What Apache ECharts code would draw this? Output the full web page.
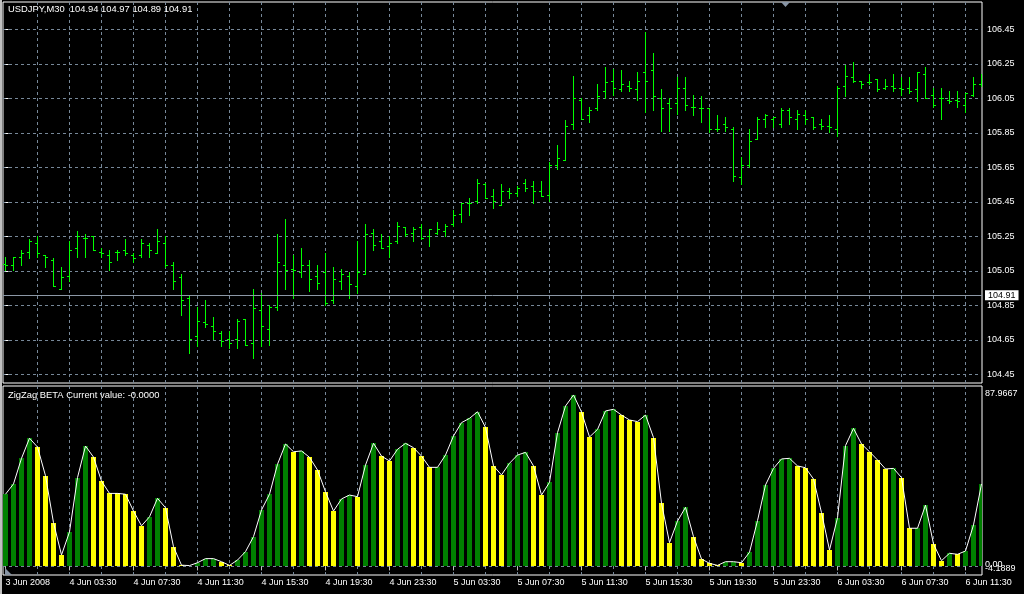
<!DOCTYPE html>
<html><head><meta charset="utf-8">
<script src="https://cdn.jsdelivr.net/npm/echarts@6/dist/echarts.min.js"></script>
<style>html,body{margin:0;padding:0;background:#000;}#c{width:1024px;height:594px;}</style>
</head><body><div id="c"></div>
<script>
// ---- data (USDJPY M30 bars, index 0 = 3 Jun 2008 23:30) ----
const opens = [
105.09,105.08,105.13,105.16,105.21,105.14,105.11,104.94,105.02,105.18,
105.24,105.25,105.16,105.14,105.16,105.17,105.14,105.14,105.20,105.15,
105.21,105.08,105.01,104.89,104.67,104.75,104.73,104.69,104.65,104.65,
104.77,104.63,104.82,104.71,104.84,105.08,105.06,105.04,105.08,105.02,
105.04,104.88,104.99,105.02,104.96,105.03,105.27,105.22,105.19,105.22,
105.30,105.27,105.30,105.25,105.27,105.28,105.32,105.38,105.44,105.45,
105.55,105.48,105.43,105.51,105.50,105.56,105.54,105.51,105.49,105.66,
105.69,105.90,106.04,105.95,105.99,106.09,106.15,106.10,106.12,106.10,
106.20,106.21,106.05,106.02,106.02,106.11,106.00,105.99,105.99,105.87,
105.90,105.87,105.59,105.66,105.81,105.93,105.93,105.90,105.98,105.93,
105.95,105.94,105.90,105.89,105.87,106.12,106.17,106.15,106.14,106.16,
106.11,106.12,106.11,106.11,106.10,106.19,106.07,106.05,106.04,106.04,
106.01,106.07,106.13];
const highs = [
105.13,105.13,105.17,105.23,105.25,105.14,105.12,105.07,105.22,105.28,
105.26,105.25,105.18,105.17,105.17,105.23,105.15,105.23,105.21,105.29,
105.25,105.10,105.03,104.91,104.84,104.88,104.78,104.70,104.70,104.77,
104.77,104.94,104.92,104.85,105.26,105.35,105.14,105.18,105.11,105.08,
105.15,105.07,105.06,105.04,105.22,105.32,105.29,105.26,105.25,105.33,
105.30,105.30,105.32,105.29,105.33,105.32,105.40,105.44,105.47,105.58,
105.56,105.52,105.55,105.53,105.54,105.58,105.57,105.57,105.68,105.78,
105.92,106.18,106.05,106.00,106.13,106.23,106.22,106.21,106.15,106.20,
106.43,106.31,106.10,106.05,106.17,106.17,106.07,106.06,105.99,105.95,
105.94,105.88,105.71,105.87,105.94,105.96,105.94,105.99,105.99,105.98,
105.98,105.94,105.93,105.95,106.12,106.24,106.26,106.15,106.19,106.16,
106.16,106.19,106.17,106.17,106.20,106.23,106.11,106.11,106.09,106.09,
106.08,106.17,106.19];
const lows = [
105.05,105.05,105.08,105.12,105.13,105.07,104.96,104.94,104.99,105.13,
105.13,105.17,105.13,105.05,105.11,105.14,105.10,105.13,105.13,105.15,
105.07,104.94,104.79,104.57,104.61,104.72,104.65,104.61,104.60,104.60,
104.62,104.54,104.61,104.62,104.82,104.94,104.89,105.01,104.93,104.94,
104.85,104.86,104.94,104.89,104.92,105.03,105.17,105.18,105.13,105.21,
105.25,105.22,105.23,105.19,105.26,105.25,105.31,105.33,105.37,105.44,
105.47,105.41,105.43,105.47,105.48,105.51,105.44,105.48,105.45,105.64,
105.69,105.87,105.93,105.91,105.98,106.05,106.07,106.09,106.09,106.04,
105.97,105.98,105.86,105.86,105.96,105.98,105.95,105.91,105.85,105.86,
105.86,105.57,105.55,105.65,105.81,105.88,105.88,105.88,105.90,105.87,
105.90,105.87,105.87,105.85,105.83,106.06,106.14,106.11,106.13,106.09,
106.10,106.09,106.07,106.08,106.03,106.05,106.00,105.93,106.02,106.00,
105.97,106.06,106.12];
const closes = [
105.08,105.13,105.15,105.22,105.15,105.13,104.96,105.01,105.17,105.25,
105.24,105.17,105.15,105.10,105.16,105.15,105.12,105.21,105.17,105.22,
105.08,104.99,104.88,104.65,104.76,104.74,104.70,104.64,104.63,104.76,
104.62,104.83,104.73,104.84,105.10,105.05,105.05,105.08,105.00,104.98,
104.86,105.00,105.03,104.97,105.04,105.26,105.20,105.18,105.21,105.31,
105.26,105.29,105.24,105.29,105.29,105.31,105.37,105.44,105.44,105.56,
105.47,105.45,105.51,105.50,105.53,105.53,105.51,105.48,105.66,105.70,
105.89,106.05,105.93,105.98,106.06,106.14,106.11,106.13,106.11,106.15,
106.15,106.06,105.99,105.99,106.11,106.01,106.00,105.99,105.87,105.87,
105.88,105.60,105.66,105.80,105.93,105.95,105.94,105.98,105.94,105.96,
105.93,105.88,105.89,105.88,106.11,106.18,106.15,106.13,106.14,106.10,
106.12,106.11,106.10,106.09,106.20,106.05,106.01,106.05,106.03,106.03,
106.08,106.13,106.13];
const zigzag = [
35.2,40.2,52.7,62.5,58.2,44.2,21.3,5.6,16.8,43.3,
58.7,53.3,41.6,35.6,35.6,35.2,27.0,19.8,24.2,33.2,
28.6,9.6,0.6,0.4,1.8,3.8,3.8,2.3,0.5,3.1,
7.2,14.5,27.5,35.2,49.8,59.7,55.9,56.3,53.2,47.0,
36.4,27.0,32.9,34.8,34.0,49.4,60.0,53.8,51.4,57.1,
60.0,57.9,53.8,48.3,48.3,54.3,63.6,70.1,72.2,75.4,
67.8,49.0,44.6,50.3,54.3,55.6,49.0,34.8,41.0,65.2,
78.2,83.6,75.3,63.1,66.8,75.8,76.6,73.8,71.4,70.6,
73.8,62.8,30.8,11.6,22.1,28.8,14.5,3.6,1.5,0.5,
2.3,2.3,1.8,6.9,22.3,39.7,47.8,52.4,52.7,49.0,
48.1,42.6,26.2,8.0,23.7,58.9,67.3,59.7,55.9,51.9,
47.5,47.8,43.3,18.6,18.6,29.9,10.9,2.8,6.4,5.9,
7.5,20.2,40.2];
const zigzagUp = [
1,1,1,1,0,0,0,0,1,1,
1,0,0,0,0,0,0,0,1,1,
0,0,0,0,1,1,1,0,0,1,
1,1,1,1,1,1,0,1,0,0,
0,0,1,1,0,1,1,0,0,1,
1,0,0,0,1,1,1,1,1,1,
0,0,0,1,1,1,0,0,1,1,
1,1,0,0,1,1,1,0,0,0,
1,0,0,0,1,1,0,0,0,0,
1,1,0,1,1,1,1,1,1,0,
0,0,0,0,1,1,1,0,0,0,
0,1,0,0,1,1,0,0,1,0,
1,1,1];
const timeTickIndex = [0,8,16,24,32,40,48,56,64,72,80,88,96,104,112,120];
const timeTickLabels = ['3 Jun 2008','4 Jun 03:30','4 Jun 07:30','4 Jun 11:30','4 Jun 15:30','4 Jun 19:30',
  '4 Jun 23:30','5 Jun 03:30','5 Jun 07:30','5 Jun 11:30','5 Jun 15:30','5 Jun 19:30','5 Jun 23:30',
  '6 Jun 03:30','6 Jun 07:30','6 Jun 11:30'];
const gridBarIndex = [4,8,12,16,20,24,28,32,36,40,44,48,52,56,60,64,68,72,76,80,84,88,92,96,100,104,108,112,116,120];
const priceTicks = [104.45,104.65,104.85,105.05,105.25,105.45,105.65,105.85,106.05,106.25,106.45];
const priceMin = 104.4007, priceMax = 106.6094;
const zzMin = -4.1889, zzMax = 87.9667;
const zzEdgeLabels = [-4.1889, 87.9667];
const zzZeroLabel = [0];
const lastPrice = 104.91;
const headerText = 'USDJPY,M30  104.94 104.97 104.89 104.91';
const indicatorText = 'ZigZag BETA Current value: -0.0000';

// ---- build ----
const FONT = 'Liberation Sans';
const GRIDC = '#778899';
const XMIN = -0.3125, XMAX = 122.0625;
const ohlcData = opens.map((o, i) => [i, o, highs[i], lows[i], closes[i]]);
const histData = zigzag.map((v, i) => [i, v, zigzagUp[i]]);
const lineData = zigzag.map((v, i) => [i, v]);

const chart = echarts.init(document.getElementById('c'), null, {renderer: 'canvas'});
const splitStyle = {show: true, lineStyle: {color: GRIDC, width: 1, type: [3, 3]}};

function ohlcRender(params, api) {
  const i = api.value(0);
  const o = api.coord([i, api.value(1)]);
  const h = api.coord([i, api.value(2)]);
  const l = api.coord([i, api.value(3)]);
  const c = api.coord([i, api.value(4)]);
  const x = Math.floor(h[0]) + 0.5;
  const yo = Math.floor(o[1]) + 0.5, yc = Math.floor(c[1]) + 0.5;
  const st = {stroke: '#00ff00', lineWidth: 1};
  return {type: 'group', children: [
    {type: 'line', shape: {x1: x, y1: Math.floor(h[1]), x2: x, y2: Math.floor(l[1]) + 1}, style: st},
    {type: 'line', shape: {x1: x - 2.5, y1: yo, x2: x - 0.5, y2: yo}, style: st},
    {type: 'line', shape: {x1: x + 0.5, y1: yc, x2: x + 2.5, y2: yc}, style: st}
  ]};
}
function histRender(params, api) {
  const i = api.value(0);
  const t = api.coord([i, api.value(1)]);
  const b = api.coord([i, 0]);
  const cx = Math.floor(t[0]);
  const yt = Math.round(t[1]), yb = Math.round(b[1]);
  return {type: 'rect', shape: {x: cx - 2, y: yt, width: 5, height: Math.max(0, yb - yt)},
    style: {fill: api.value(2) ? '#008000' : '#ffff00'}};
}
const labelFont = {color: '#fff', fontSize: 9, fontFamily: FONT};
const titleFont = {color: '#fff', fontSize: 9.4, fontWeight: 'normal', fontFamily: FONT};

const option = {
  backgroundColor: '#000',
  animation: false,
  title: [
    {text: headerText, left: 8, top: 5, padding: 0, textStyle: titleFont},
    {text: indicatorText, left: 8, top: 391, padding: 0, textStyle: titleFont}
  ],
  grid: [
    {left: 3, top: 2, width: 979, height: 381, show: true, borderColor: '#fff', borderWidth: 1, backgroundColor: 'transparent'},
    {left: 3, top: 386, width: 979, height: 189, show: true, borderColor: '#fff', borderWidth: 1, backgroundColor: 'transparent'}
  ],
  xAxis: [
    {type: 'value', gridIndex: 0, min: XMIN, max: XMAX, axisLine: {show: false},
     axisTick: {show: false, customValues: gridBarIndex}, axisLabel: {show: false}, splitLine: splitStyle},
    {type: 'value', gridIndex: 1, min: XMIN, max: XMAX, axisLine: {show: false},
     axisTick: {show: false, customValues: gridBarIndex}, axisLabel: {show: false}, splitLine: splitStyle},
    {type: 'value', gridIndex: 1, position: 'bottom', min: XMIN, max: XMAX, axisLine: {show: false},
     axisTick: {show: true, customValues: timeTickIndex, length: 4, lineStyle: {color: '#c0c0c0'}},
     axisLabel: Object.assign({customValues: timeTickIndex, align: 'left', margin: 3, hideOverlap: false,
       formatter: v => { const k = timeTickIndex.indexOf(Math.round(v)); return k >= 0 ? timeTickLabels[k] : ''; }}, labelFont),
     splitLine: {show: false}}
  ],
  yAxis: [
    {type: 'value', gridIndex: 0, position: 'right', min: priceMin, max: priceMax, axisLine: {show: false},
     axisTick: {show: true, customValues: priceTicks, length: 3, lineStyle: {color: '#fff'}},
     axisLabel: Object.assign({customValues: priceTicks, margin: 5, hideOverlap: false, formatter: v => v.toFixed(2)}, labelFont),
     splitLine: splitStyle},
    {type: 'value', gridIndex: 1, position: 'right', min: zzMin, max: zzMax, axisLine: {show: false},
     axisTick: {show: false, customValues: [0]},
     axisLabel: Object.assign({customValues: zzEdgeLabels, margin: 3, hideOverlap: false, showMinLabel: true, showMaxLabel: true,
       formatter: v => v > 0 ? '{t|' + zzMax.toFixed(4) + '}' : '{b|' + zzMin.toFixed(4) + '}',
       rich: {
         t: Object.assign({padding: [15, 0, 0, 0]}, labelFont),
         b: Object.assign({padding: [0, 0, 13, 0]}, labelFont)
       }}, labelFont),
     splitLine: splitStyle},
    {type: 'value', gridIndex: 1, position: 'right', min: zzMin, max: zzMax, axisLine: {show: false},
     axisTick: {show: false, customValues: zzZeroLabel},
     axisLabel: Object.assign({customValues: zzZeroLabel, margin: 3, hideOverlap: false, showMinLabel: true, showMaxLabel: true,
       formatter: v => '{z|' + v.toFixed(2) + '}',
       rich: {z: Object.assign({padding: [0, 0, 4, 0]}, labelFont)}}, labelFont),
     splitLine: {show: false}}
  ],
  graphic: [
    {type: 'rect', shape: {x: 0, y: 0, width: 2, height: 594}, style: {fill: '#c0c0c0'}, silent: true},
    {type: 'polygon', shape: {points: [[781, 2], [790, 2], [785.5, 7]]}, style: {fill: '#8895a5'}, silent: true, z: 100},
    {type: 'polygon', shape: {points: [[5, 568], [5, 575], [12, 575]]}, style: {fill: '#8895a5'}, silent: true, z: 100}
  ],
  series: [
    {type: 'custom', name: 'USDJPY', xAxisIndex: 0, yAxisIndex: 0, data: ohlcData, renderItem: ohlcRender,
     encode: {x: 0, y: [1, 2, 3, 4]}, clip: true, silent: true, z: 3,
     markLine: {silent: true, symbol: 'none', animation: false,
       lineStyle: {color: '#8c98a6', type: 'solid', width: 1},
       label: {show: true, position: 'end', distance: 3, formatter: lastPrice.toFixed(2), color: '#000',
         backgroundColor: '#fff', padding: [1, 3, 0, 3], fontSize: 9, fontFamily: FONT},
       data: [{yAxis: lastPrice}]}},
    {type: 'custom', name: 'ZigZag bars', xAxisIndex: 1, yAxisIndex: 1, data: histData, renderItem: histRender,
     encode: {x: 0, y: 1}, clip: true, silent: true, z: 2},
    {type: 'line', name: 'ZigZag', xAxisIndex: 1, yAxisIndex: 1, data: lineData, symbol: 'none', silent: true,
     lineStyle: {color: '#fff', width: 1}, z: 4}
  ]
};
chart.setOption(option);
</script>
</body></html>
